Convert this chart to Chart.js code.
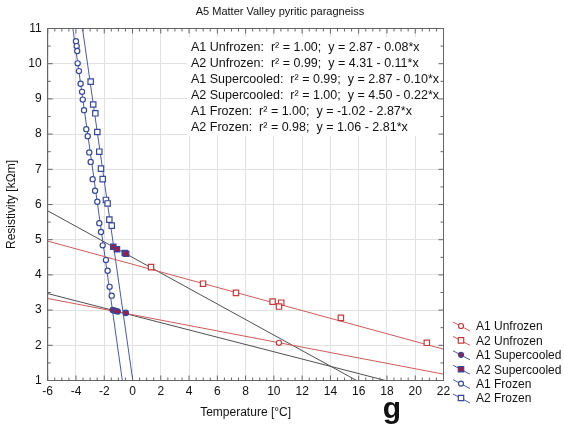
<!DOCTYPE html>
<html>
<head>
<meta charset="utf-8">
<script src="https://cdn.jsdelivr.net/npm/chart.js@4.4.1/dist/chart.umd.min.js"></script>
<style>
  html, body { margin: 0; padding: 0; background: #fff; }
</style>
</head>
<body>
<canvas id="myChart" width="564" height="428"></canvas>
<script>
// measured points, temperature [°C] / resistivity [kOhm m]
const a1FrozenT = [-4.00, -3.95, -3.91, -3.88, -3.79, -3.67, -3.57, -3.52, -3.43, -3.27, -3.17, -3.06,
                   -2.96, -2.82, -2.65, -2.49, -2.35, -2.23, -2.11, -1.88, -1.76, -1.62, -1.47];
const a1FrozenR = [10.64, 10.50, 10.36, 10.01, 9.79, 9.43, 9.20, 8.98, 8.68, 8.14, 7.94, 7.48,
                   7.21, 6.72, 6.39, 6.08, 5.47, 5.22, 4.84, 4.42, 4.12, 3.66, 3.41];
const a2FrozenT = [-2.96, -2.78, -2.63, -2.49, -2.35, -2.23, -2.11, -1.88, -1.76, -1.64, -1.47];
const a2FrozenR = [9.49, 8.84, 8.59, 8.06, 7.50, 7.02, 6.72, 6.13, 6.03, 5.57, 5.40];
const a1SuperT = [-1.40, -1.22, -1.05, -0.48];
const a1SuperR = [3.00, 2.98, 2.96, 2.92];
const a2SuperT = [-1.36, -1.10, -0.55, -0.45];
const a2SuperR = [4.80, 4.73, 4.62, 4.60];
const a1UnfrozenT = [10.36];
const a1UnfrozenR = [2.07];
const a2UnfrozenT = [1.31, 4.99, 7.32, 9.91, 10.52, 10.36, 14.74, 20.82];
const a2UnfrozenR = [4.22, 3.75, 3.49, 3.24, 3.21, 3.10, 2.78, 2.07];

// fitted lines, end points
const fitA1UnfrozenT = [-6, 22];    const fitA1UnfrozenR = [3.33, 1.18];
const fitA2UnfrozenT = [-6, 22];    const fitA2UnfrozenR = [4.96, 1.89];
const fitA1SuperT = [-6, 17.9];     const fitA1SuperR = [3.47, 1.0];
const fitA2SuperT = [-6, 15.85];    const fitA2SuperR = [5.82, 1.0];
const fitA1FrozenT = [-4.22, -0.72]; const fitA1FrozenR = [11, 1];
const fitA2FrozenT = [-3.54, 0.02];  const fitA2FrozenR = [11, 1];

const fitTexts = [
  "A1 Unfrozen:  r\u00b2 = 1.00;  y = 2.87 - 0.08*x",
  "A2 Unfrozen:  r\u00b2 = 0.99;  y = 4.31 - 0.11*x",
  "A1 Supercooled:  r\u00b2 = 0.99;  y = 2.87 - 0.10*x",
  "A2 Supercooled:  r\u00b2 = 1.00;  y = 4.50 - 0.22*x",
  "A1 Frozen:  r\u00b2 = 1.00;  y = -1.02 - 2.87*x",
  "A2 Frozen:  r\u00b2 = 0.98;  y = 1.06 - 2.81*x"
];

const RED = "#c43c3c", REDLINE = "#d05a5a";
const BLUE = "#38489a", BLUELINE = "#4a5aa8";
const DARK = "#505050", SUPFILL = "#9c1d45";
const FONT = "'Liberation Sans', Arial, sans-serif";

function pts(t, r) { return t.map((v, i) => ({ x: v, y: r[i] })); }

function lineSet(t, r, color) {
  return { data: pts(t, r), showLine: true, borderColor: color, borderWidth: 1,
           pointRadius: 0, fill: false, order: 2 };
}
function markSet(t, r, style, stroke, fillc, rad) {
  return { data: pts(t, r), showLine: false, pointStyle: style, pointRadius: rad,
           pointBorderColor: stroke, pointBackgroundColor: fillc, pointBorderWidth: 1.2, order: 1 };
}

const legendItems = [
  { label: "A1 Unfrozen",    line: REDLINE, style: "circle", stroke: RED,  fill: "#fff" },
  { label: "A2 Unfrozen",    line: REDLINE, style: "rect",   stroke: RED,  fill: "#fff" },
  { label: "A1 Supercooled", line: BLUELINE, style: "circle", stroke: BLUE, fill: SUPFILL },
  { label: "A2 Supercooled", line: BLUELINE, style: "rect",   stroke: BLUE, fill: SUPFILL },
  { label: "A1 Frozen",      line: BLUELINE, style: "circle", stroke: BLUE, fill: "#fff" },
  { label: "A2 Frozen",      line: BLUELINE, style: "rect",   stroke: BLUE, fill: "#fff" }
];

const decor = {
  id: "decor",
  beforeDatasetsDraw(chart) {
    const ctx = chart.ctx;
    ctx.save();
    ctx.fillStyle = "#fff";
    ctx.fillRect(187, 37, 255, 99);
    ctx.fillStyle = "#111";
    ctx.font = "12.5px " + FONT;
    ctx.textBaseline = "middle";
    ctx.textAlign = "left";
    fitTexts.forEach((s, i) => ctx.fillText(s, 191, 48 + i * 16));
    ctx.restore();
  },
  afterDraw(chart) {
    const ctx = chart.ctx, a = chart.chartArea;
    const xs = chart.scales.x, ys = chart.scales.y;
    ctx.save();
    // frame
    ctx.strokeStyle = "#666";
    ctx.lineWidth = 1;
    ctx.strokeRect(a.left, a.top, a.right - a.left, a.bottom - a.top);
    // inner ticks on all sides
    ctx.beginPath();
    for (let v = -6; v <= 22.001; v += 0.5) {
      const px = xs.getPixelForValue(v);
      const len = (Math.abs(v % 2) < 0.01) ? 5 : 3;
      ctx.moveTo(px, a.bottom); ctx.lineTo(px, a.bottom - len);
      ctx.moveTo(px, a.top); ctx.lineTo(px, a.top + len);
    }
    for (let v = 1; v <= 11.001; v += 0.5) {
      const py = ys.getPixelForValue(v);
      const len = (Math.abs(v % 1) < 0.01) ? 5 : 3;
      ctx.moveTo(a.left, py); ctx.lineTo(a.left + len, py);
      ctx.moveTo(a.right, py); ctx.lineTo(a.right - len, py);
    }
    ctx.stroke();

    // titles
    ctx.fillStyle = "#111";
    ctx.textAlign = "center";
    ctx.textBaseline = "middle";
    ctx.font = "11px " + FONT;
    ctx.fillText("A5 Matter Valley pyritic paragneiss", 280, 12);
    ctx.font = "12px " + FONT;
    ctx.fillText("Temperature [\u00b0C]", (a.left + a.right) / 2, 413);
    ctx.save();
    ctx.translate(12, (a.top + a.bottom) / 2);
    ctx.rotate(-Math.PI / 2);
    ctx.fillText("Resistivity [k\u03a9m]", 0, 0);
    ctx.restore();

    // legend
    ctx.textAlign = "left";
    legendItems.forEach((it, i) => {
      const y = 326 + i * 14.4;
      ctx.strokeStyle = it.line;
      ctx.lineWidth = 1;
      ctx.beginPath();
      ctx.moveTo(453, y - 4); ctx.lineTo(470, y + 5);
      ctx.stroke();
      ctx.fillStyle = it.fill;
      ctx.strokeStyle = it.stroke;
      ctx.lineWidth = 1.2;
      ctx.beginPath();
      if (it.style === "circle") ctx.arc(461, y, 2.5, 0, Math.PI * 2);
      else ctx.rect(458.3, y - 2.7, 5.4, 5.4);
      ctx.fill(); ctx.stroke();
      ctx.fillStyle = "#111";
      ctx.font = "12px " + FONT;
      ctx.fillText(it.label, 476, y + 1);
    });

    // panel letter
    ctx.font = "bold 30px " + FONT;
    ctx.textAlign = "center";
    ctx.textBaseline = "alphabetic";
    ctx.fillText("g", 392, 418);
    ctx.restore();
  }
};

new Chart(document.getElementById("myChart").getContext("2d"), {
  type: "scatter",
  data: {
    datasets: [
      markSet(a1FrozenT, a1FrozenR, "circle", BLUE, "#fff", 2.6),
      markSet(a2FrozenT, a2FrozenR, "rect", BLUE, "#fff", 3.8),
      markSet(a1SuperT, a1SuperR, "circle", BLUE, SUPFILL, 2.7),
      markSet(a2SuperT, a2SuperR, "rect", BLUE, SUPFILL, 3.8),
      markSet(a1UnfrozenT, a1UnfrozenR, "circle", RED, "#fff", 2.6),
      markSet(a2UnfrozenT, a2UnfrozenR, "rect", RED, "#fff", 3.8),
      lineSet(fitA1UnfrozenT, fitA1UnfrozenR, REDLINE),
      lineSet(fitA2UnfrozenT, fitA2UnfrozenR, REDLINE),
      lineSet(fitA1SuperT, fitA1SuperR, DARK),
      lineSet(fitA2SuperT, fitA2SuperR, DARK),
      lineSet(fitA1FrozenT, fitA1FrozenR, BLUELINE),
      lineSet(fitA2FrozenT, fitA2FrozenR, BLUELINE)
    ]
  },
  options: {
    responsive: false,
    animation: false,
    devicePixelRatio: 1,
    layout: { padding: { left: 0, top: 28.5, right: 120.5, bottom: 0 } },
    plugins: { legend: { display: false }, tooltip: { enabled: false } },
    scales: {
      x: {
        type: "linear", min: -6, max: 22,
        ticks: { stepSize: 2, color: "#111", font: { family: FONT, size: 12 }, padding: 4, maxRotation: 0 },
        grid: { color: "#e2e2e2", drawTicks: false },
        border: { color: "#666" },
        afterFit(s) { s.height = 47.5; }
      },
      y: {
        type: "linear", min: 1, max: 11,
        ticks: { stepSize: 1, color: "#111", font: { family: FONT, size: 12 }, padding: 6 },
        grid: { color: "#e2e2e2", drawTicks: false },
        border: { color: "#666" },
        afterFit(s) { s.width = 47.7; }
      }
    }
  },
  plugins: [decor]
});
</script>
</body>
</html>
